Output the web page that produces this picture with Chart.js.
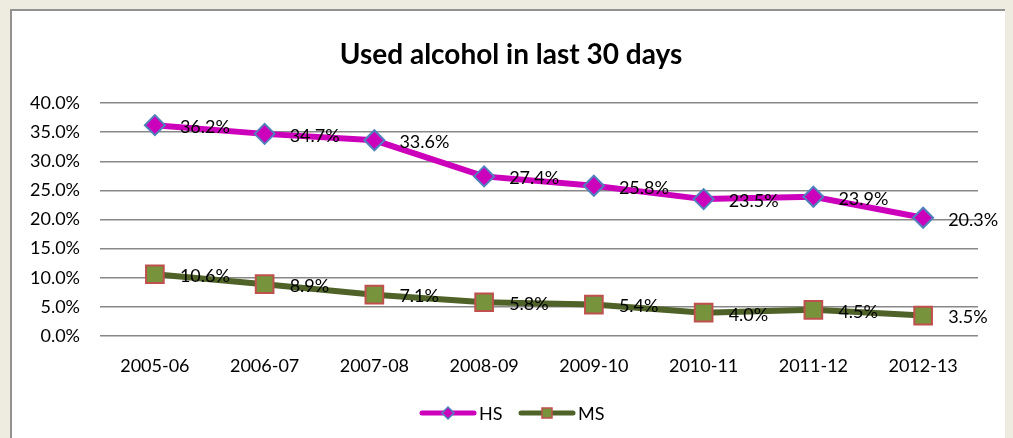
<!DOCTYPE html>
<html lang="en">
  <head>
    <meta charset="UTF-8" />
    <title>Used alcohol in last 30 days</title>
    <script src="https://cdn.jsdelivr.net/npm/chart.js@4"></script>
    <style>
      html, body { margin: 0; padding: 0; background: #eeece1; }
      #wrap { width: 1013px; height: 438px; }
    </style>
  </head>
  <body>
    <div id="wrap"><canvas id="myChart" width="1013" height="438"></canvas></div>

    <script>
      // values
      const years = ['2005-06', '2006-07', '2007-08', '2008-09', '2009-10', '2010-11', '2011-12', '2012-13'];
      const hs = [36.2, 34.7, 33.6, 27.4, 25.8, 23.5, 23.9, 20.3];
      const ms = [10.6, 8.9, 7.1, 5.8, 5.4, 4.0, 4.5, 3.5];
      const yTicks = [0, 5, 10, 15, 20, 25, 30, 35, 40];

      const FONT = 'Lato, "Open Sans", sans-serif';

      // frame, title, point labels and legend
      const extras = {
        id: 'extras',
        beforeDraw(chart) {
          const ctx = chart.ctx;
          ctx.save();
          ctx.fillStyle = '#eeece1';
          ctx.fillRect(0, 0, chart.width, chart.height);
          ctx.fillStyle = '#ffffff';
          ctx.fillRect(10, 10, 995, chart.height - 10);
          ctx.fillStyle = '#929292';
          ctx.fillRect(10, 9, 995, 2);
          ctx.fillRect(10, 9, 2, chart.height - 9);
          ctx.restore();
        },
        afterDraw(chart) {
          const ctx = chart.ctx;
          ctx.save();
          ctx.fillStyle = '#000';
          ctx.textAlign = 'center';
          ctx.textBaseline = 'middle';
          ctx.font = 'bold 28px ' + FONT;
          ctx.fillText('Used alcohol in last 30 days', 511, 55);

          // data labels
          ctx.font = '18px ' + FONT;
          ctx.textAlign = 'left';
          chart.data.datasets.forEach((ds, i) => {
            chart.getDatasetMeta(i).data.forEach((pt, j) => {
              ctx.fillText(ds.data[j].toFixed(1) + '%', pt.x + 25, pt.y + 2);
            });
          });

          // legend
          const y = 413;
          const items = [
            { x: 420, ds: chart.data.datasets[0], text: 'HS' },
            { x: 519, ds: chart.data.datasets[1], text: 'MS' }
          ];
          items.forEach(it => {
            ctx.strokeStyle = it.ds.borderColor;
            ctx.lineWidth = 5;
            ctx.lineCap = 'round';
            ctx.beginPath();
            ctx.moveTo(it.x + 2, y);
            ctx.lineTo(it.x + 54, y);
            ctx.stroke();
            ctx.fillStyle = it.ds.pointBackgroundColor;
            ctx.strokeStyle = it.ds.pointBorderColor;
            ctx.lineWidth = 1.5;
            ctx.beginPath();
            if (it.ds.pointStyle === 'rect') {
              ctx.rect(it.x + 23, y - 5, 10, 10);
            } else {
              ctx.moveTo(it.x + 28, y - 6);
              ctx.lineTo(it.x + 34, y);
              ctx.lineTo(it.x + 28, y + 6);
              ctx.lineTo(it.x + 22, y);
              ctx.closePath();
            }
            ctx.fill();
            ctx.stroke();
            ctx.fillStyle = '#000';
            ctx.font = '18px ' + FONT;
            ctx.fillText(it.text, it.x + 59, y + 1);
          });
          ctx.restore();
        }
      };

      const ctx = document.getElementById('myChart').getContext('2d');
      const myChart = new Chart(ctx, {
        type: 'line',
        data: {
          labels: years,
          datasets: [
            {
              label: 'HS',
              data: hs,
              borderColor: '#cc00bb',
              borderWidth: 6,
              pointStyle: 'rectRot',
              pointRadius: 10,
              pointBackgroundColor: '#cc00bb',
              pointBorderColor: '#4f81bd',
              pointBorderWidth: 2,
              tension: 0
            },
            {
              label: 'MS',
              data: ms,
              borderColor: '#4f6228',
              borderWidth: 6,
              pointStyle: 'rect',
              pointRadius: 12.5,
              pointBackgroundColor: '#77933c',
              pointBorderColor: '#c0504d',
              pointBorderWidth: 2,
              tension: 0
            }
          ]
        },
        options: {
          responsive: false,
          animation: false,
          layout: { padding: { top: 103, right: 35, bottom: 22, left: 0 } },
          plugins: {
            legend: { display: false },
            title: { display: false },
            tooltip: { enabled: false }
          },
          scales: {
            x: {
              offset: true,
              grid: { display: false },
              border: { display: false },
              ticks: { color: '#000', font: { family: FONT, size: 18 }, padding: 11, maxRotation: 0 },
              afterFit(scale) { scale.height = 80; }
            },
            y: {
              min: 0,
              max: 40,
              afterBuildTicks(scale) { scale.ticks = yTicks.map(v => ({ value: v })); },
              grid: { color: '#888888', lineWidth: 1.5, drawTicks: false },
              border: { display: false },
              ticks: {
                color: '#000',
                font: { family: FONT, size: 18 },
                padding: 20,
                callback: v => v.toFixed(1) + '%'
              },
              afterFit(scale) { scale.width = 100; }
            }
          }
        },
        plugins: [extras]
      });
    </script>
  </body>
</html>
